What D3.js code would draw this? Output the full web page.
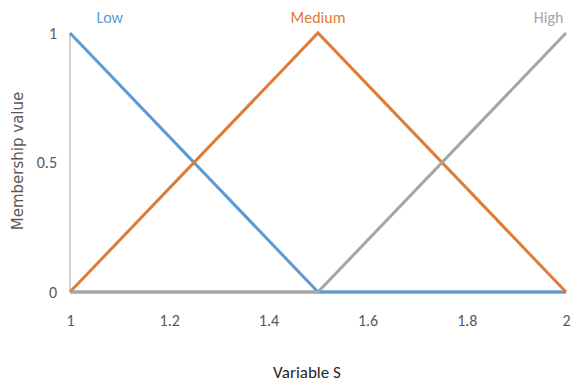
<!DOCTYPE html>
<html><head><meta charset="utf-8">
<script src="https://cdn.jsdelivr.net/npm/d3@7"></script>
<style>body{margin:0;background:#fff}svg{display:block}</style>
</head><body><svg id="c" width="571" height="385"></svg>
<script>
const xValues = [1, 1.5, 2];
const lowValues = [1, 0, 0];
const mediumValues = [0, 1, 0];
const highValues = [0, 0, 1];
const seriesNames = ["Low", "Medium", "High"];
const xTicks = [1, 1.2, 1.4, 1.6, 1.8, 2];
const yTicks = [0, 0.5, 1];
const colors = ["#5b9bd5", "#e07b35", "#a5a5a5"];
const labelX = [1.08, 1.5, 1.965];

const svg = d3.select("#c");
const x = d3.scaleLinear().domain([1, 2]).range([70, 566]);
const y = d3.scaleLinear().domain([0, 1]).range([292, 33]);
const fontC = "Carlito, Lato, 'Open Sans', sans-serif";

svg.append("line").attr("x1", x(1)).attr("x2", x(1)).attr("y1", y(1)).attr("y2", y(0))
  .attr("stroke", "#bfbfbf").attr("stroke-width", 1.5);
svg.append("line").attr("x1", x(1)).attr("x2", x(2)).attr("y1", y(0)).attr("y2", y(0))
  .attr("stroke", "#a5a5a5").attr("stroke-width", 3);

const xAxis = d3.axisBottom(x).tickValues(xTicks).tickSize(0).tickPadding(0).tickFormat(d3.format("~g"));
const gx = svg.append("g").attr("transform", `translate(0,${y(0) + 34})`).call(xAxis);
gx.select(".domain").remove();
gx.selectAll("text").attr("font-family", fontC).attr("font-size", 16).attr("fill", "#595959").attr("dy", 0);

const yAxis = d3.axisLeft(y).tickValues(yTicks).tickSize(0).tickPadding(0).tickFormat(d3.format("~g"));
const gy = svg.append("g").attr("transform", `translate(${x(1) - 13},0)`).call(yAxis);
gy.select(".domain").remove();
gy.selectAll("text").attr("font-family", fontC).attr("font-size", 16).attr("fill", "#595959");

const allSeries = [lowValues, mediumValues, highValues];
const line = d3.line().x((d, i) => x(xValues[i])).y(d => y(d));
allSeries.forEach((vals, k) => {
  svg.append("path").datum(vals).attr("d", line).attr("fill", "none")
    .attr("stroke", colors[k]).attr("stroke-width", 3).attr("stroke-linejoin", "miter");
  svg.append("text").attr("x", x(labelX[k])).attr("y", 23).attr("text-anchor", "middle")
    .attr("font-family", fontC).attr("font-size", 16).attr("fill", colors[k]).text(seriesNames[k]);
});

svg.append("text").attr("x", 307).attr("y", 378).attr("text-anchor", "middle")
  .attr("font-family", fontC).attr("font-size", 17).attr("fill", "#262626").text("Variable S");
svg.append("text").attr("transform", `translate(23,161) rotate(-90)`).attr("text-anchor", "middle")
  .attr("font-family", "'DejaVu Sans', 'Liberation Sans', sans-serif").attr("font-size", 15).attr("fill", "#595959").text("Membership value");
</script></body></html>
